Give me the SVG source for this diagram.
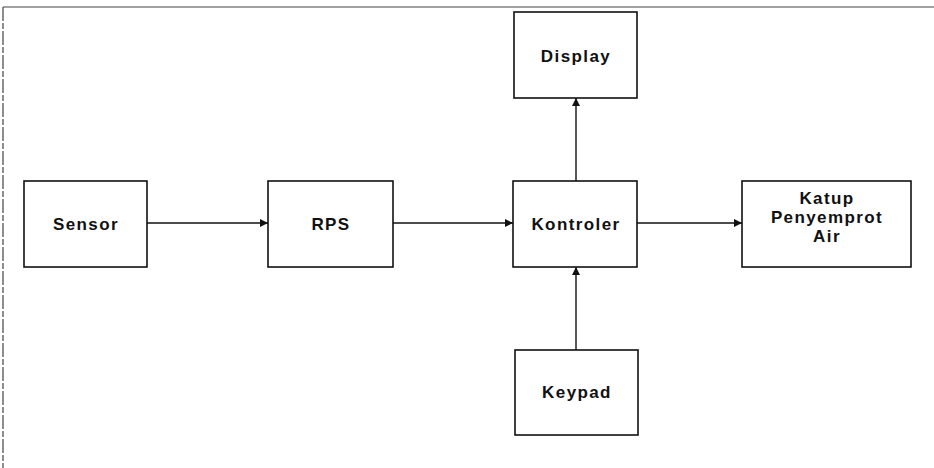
<svg xmlns="http://www.w3.org/2000/svg" width="934" height="468" viewBox="0 0 934 468">
<style>
.box{fill:#fff;stroke:#111;stroke-width:1.6}
.lbl{font-family:"Liberation Sans",Arial,sans-serif;font-weight:bold;font-size:17px;letter-spacing:1.4px;fill:#111;text-anchor:middle}
.con{stroke:#111;stroke-width:1.4;fill:none}
.frame{stroke:#444;stroke-width:1.2;fill:none}
</style>
<defs>
<marker id="ah" viewBox="0 0 10 10" refX="10" refY="5" markerWidth="11" markerHeight="8" markerUnits="userSpaceOnUse" orient="auto">
<path d="M0,0 L10,5 L0,10 z" fill="#111"/>
</marker>
</defs>
<rect width="934" height="468" fill="#fff"/>
<g id="frame">
<line class="frame" x1="3" y1="7" x2="934" y2="7"/>
<line class="frame" x1="3" y1="7" x2="3" y2="468" stroke-dasharray="14 2 6 2"/>
</g>
<g id="sensor"><rect class="box" x="24" y="181" width="123" height="86"/><text class="lbl" x="86" y="230">Sensor</text></g>
<g id="rps"><rect class="box" x="268" y="181" width="125" height="86"/><text class="lbl" x="331" y="230">RPS</text></g>
<g id="kontroler"><rect class="box" x="513" y="181" width="124" height="86"/><text class="lbl" x="576" y="230">Kontroler</text></g>
<g id="katup"><rect class="box" x="742" y="181" width="169" height="86"/>
<text class="lbl" x="827" y="204">Katup</text>
<text class="lbl" x="827" y="223">Penyemprot</text>
<text class="lbl" x="827" y="242">Air</text></g>
<g id="display"><rect class="box" x="514" y="12" width="123" height="86"/><text class="lbl" x="576" y="62">Display</text></g>
<g id="keypad"><rect class="box" x="515" y="350" width="123" height="85"/><text class="lbl" x="577" y="398">Keypad</text></g>
<g id="connectors">
<line class="con" x1="147" y1="223" x2="268" y2="223" marker-end="url(#ah)"/>
<line class="con" x1="393" y1="223" x2="513" y2="223" marker-end="url(#ah)"/>
<line class="con" x1="637" y1="223" x2="742" y2="223" marker-end="url(#ah)"/>
<line class="con" x1="576" y1="181" x2="576" y2="98" marker-end="url(#ah)"/>
<line class="con" x1="576" y1="350" x2="576" y2="267" marker-end="url(#ah)"/>
</g>
</svg>
